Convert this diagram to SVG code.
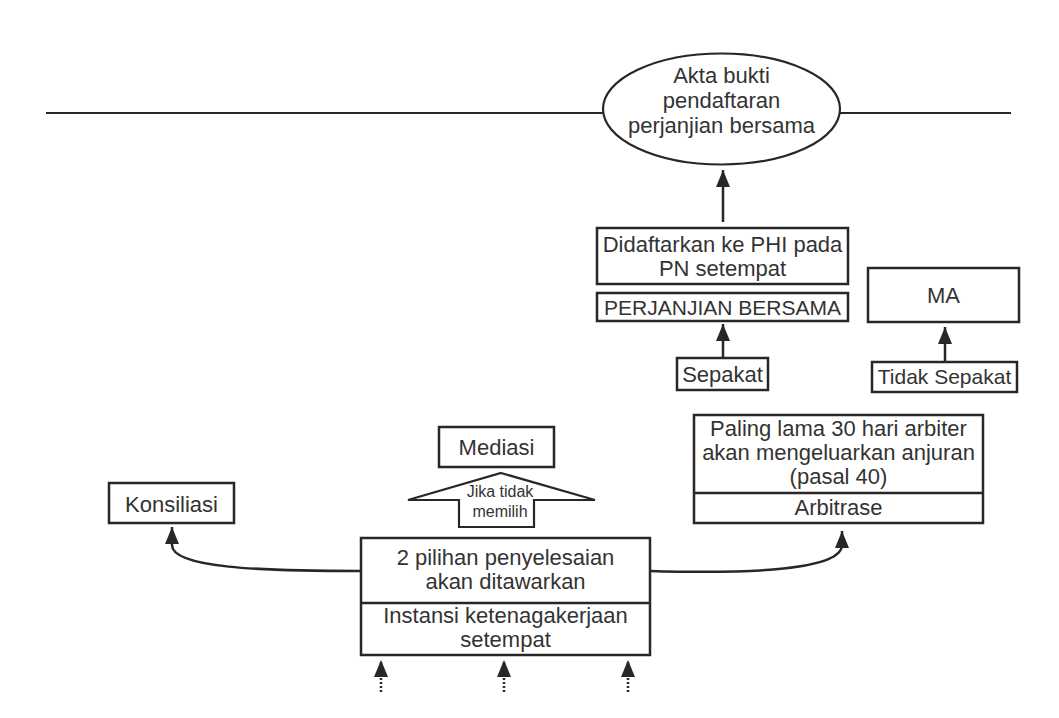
<svg xmlns="http://www.w3.org/2000/svg" width="1059" height="718" viewBox="0 0 1059 718">
  <style>
    .box { fill: #ffffff; stroke: #2b2626; stroke-width: 2.5; }
    .t { font-family: "Liberation Sans", Arial, sans-serif; font-size: 22px; fill: #333333; text-anchor: middle; }
    .tn { font-size: 21px; }
    .s { font-family: "Liberation Sans", Arial, sans-serif; font-size: 16px; fill: #333333; text-anchor: middle; }
    .link { fill: none; stroke: #2b2626; stroke-width: 2.5; }
    .dot { fill: none; stroke: #2b2626; stroke-width: 2.5; stroke-dasharray: 2 2; }
  </style>
  <defs>
    <marker id="head" viewBox="0 0 17 14" refX="17" refY="7" markerWidth="17" markerHeight="14" markerUnits="userSpaceOnUse" orient="auto">
      <path d="M0,0 L17,7 L0,14 z" fill="#2b2626"/>
    </marker>
  </defs>

  <rect width="1059" height="718" fill="#ffffff"/>

  <!-- boundary line -->
  <line x1="46" y1="113" x2="1011" y2="113" stroke="#2b2626" stroke-width="2.2"/>

  <!-- connectors -->
  <g id="connectors">
    <path class="link" d="M723,222 L723,170" marker-end="url(#head)"/>
    <path class="link" d="M723,358 L723,324" marker-end="url(#head)"/>
    <path class="link" d="M945,362 L945,327" marker-end="url(#head)"/>
    <path class="link" d="M361,571 C260,571 172,568 172,545 L172,527" marker-end="url(#head)"/>
    <path class="link" d="M650,571 C750,574 842,570 842,545 L842,531" marker-end="url(#head)"/>
    <path class="dot" d="M381,692 L381,660" marker-end="url(#head)"/>
    <path class="dot" d="M504,692 L504,660" marker-end="url(#head)"/>
    <path class="dot" d="M628,692 L628,660" marker-end="url(#head)"/>
  </g>

  <g id="akta">
    <ellipse cx="721.5" cy="109" rx="118.5" ry="55.5" fill="#ffffff" stroke="#2b2626" stroke-width="2.2"/>
    <text class="t" x="721.5" y="83">Akta bukti</text>
    <text class="t" x="721.5" y="108">pendaftaran</text>
    <text class="t" x="721.5" y="133">perjanjian bersama</text>
  </g>

  <g id="didaftarkan">
    <rect class="box" x="597" y="228" width="251" height="56"/>
    <text class="t" x="722.5" y="252">Didaftarkan ke PHI pada</text>
    <text class="t" x="722.5" y="276">PN setempat</text>
  </g>

  <g id="perjanjian">
    <rect class="box" x="597" y="293" width="251" height="28"/>
    <text class="t tn" x="722.5" y="315">PERJANJIAN BERSAMA</text>
  </g>

  <g id="sepakat">
    <rect class="box" x="677" y="358" width="91" height="32"/>
    <text class="t" x="722.5" y="382">Sepakat</text>
  </g>

  <g id="ma">
    <rect class="box" x="868" y="268" width="151" height="54"/>
    <text class="t" x="943.5" y="303">MA</text>
  </g>

  <g id="tidak-sepakat">
    <rect class="box" x="872" y="362" width="145" height="30"/>
    <text class="t tn" x="944.5" y="384">Tidak Sepakat</text>
  </g>

  <g id="arbitrase">
    <rect class="box" x="694" y="415" width="289" height="108"/>
    <line x1="694" y1="493" x2="983" y2="493" stroke="#2b2626" stroke-width="2.5"/>
    <text class="t" x="838.5" y="436">Paling lama 30 hari arbiter</text>
    <text class="t" x="838.5" y="460">akan mengeluarkan anjuran</text>
    <text class="t" x="838.5" y="484">(pasal 40)</text>
    <text class="t" x="838.5" y="515">Arbitrase</text>
  </g>

  <g id="mediasi">
    <rect class="box" x="439" y="427" width="115" height="40"/>
    <text class="t" x="496.5" y="455">Mediasi</text>
  </g>

  <g id="jika-tidak-memilih">
    <polygon points="501,473 595,500 534,500 534,527 459,527 459,500 408,500" fill="#ffffff" stroke="#2b2626" stroke-width="2.2" stroke-linejoin="miter"/>
    <text class="s" x="500" y="497">Jika tidak</text>
    <text class="s" x="500" y="517">memilih</text>
  </g>

  <g id="konsiliasi">
    <rect class="box" x="109" y="483" width="125" height="40"/>
    <text class="t" x="171.5" y="512">Konsiliasi</text>
  </g>

  <g id="instansi">
    <rect class="box" x="361" y="538" width="289" height="117"/>
    <line x1="361" y1="603" x2="650" y2="603" stroke="#2b2626" stroke-width="2.5"/>
    <text class="t" x="505.5" y="565">2 pilihan penyelesaian</text>
    <text class="t" x="505.5" y="589">akan ditawarkan</text>
    <text class="t" x="505.5" y="623">Instansi ketenagakerjaan</text>
    <text class="t" x="505.5" y="647">setempat</text>
  </g>
</svg>
